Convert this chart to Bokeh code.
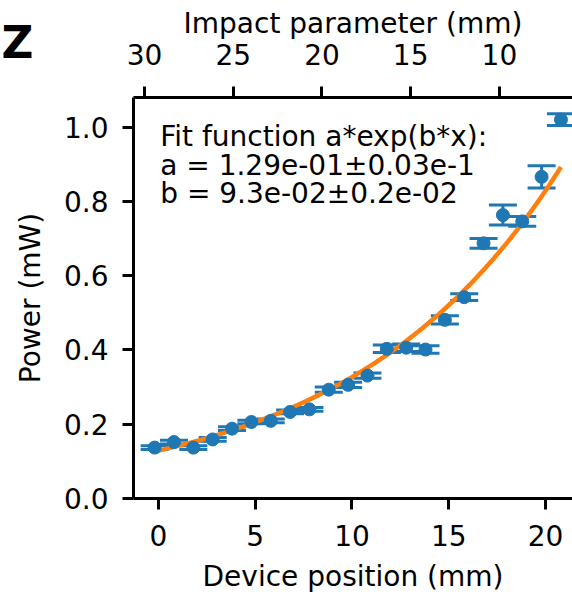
import numpy as np
from bokeh.plotting import figure
from bokeh.models import (Range1d, LinearAxis, FixedTicker, PrintfTickFormatter,
                          Whisker, TeeHead, ColumnDataSource, Label)
from bokeh.core.properties import value
from bokeh.embed import file_html
from bokeh.resources import INLINE

# ---- data ----
device_pos = [-0.2, 0.8, 1.8, 2.8, 3.8, 4.8, 5.8, 6.8, 7.8, 8.8, 9.8, 10.8,
              11.8, 12.8, 13.8, 14.8, 15.8, 16.8, 17.8, 18.8, 19.8, 20.8]
power = [0.137, 0.152, 0.137, 0.159, 0.188, 0.206, 0.209, 0.233, 0.240, 0.293,
         0.306, 0.331, 0.403, 0.406, 0.401, 0.481, 0.542, 0.687, 0.763, 0.746,
         0.866, 1.020]
power_err = [0.005, 0.005, 0.005, 0.005, 0.005, 0.005, 0.005, 0.005, 0.005, 0.007,
             0.007, 0.007, 0.010, 0.010, 0.010, 0.011, 0.009, 0.013, 0.027, 0.013,
             0.030, 0.016]
fit_a = 0.129
fit_b = 0.093
x_ticks = [0, 5, 10, 15, 20]
y_ticks = [0.0, 0.2, 0.4, 0.6, 0.8, 1.0]
impact_ticks = [30, 25, 20, 15, 10]
fit_text = ["Fit function a*exp(b*x):",
            "a = 1.29e-01\u00b10.03e-1",
            "b = 9.3e-02\u00b10.2e-02"]
panel_letter = ["Z"]

BLUE = "#1f77b4"
ORANGE = "#ff7f0e"
FONT = "DejaVu Sans"
FS = "28px"

p = figure(width=572, height=595, output_backend="svg", toolbar_location=None,
           x_range=Range1d(-1.293, 21.397), y_range=Range1d(0.0, 1.0796),
           x_axis_location=None, y_axis_location=None,
           min_border_left=133, min_border_right=0, min_border_top=97,
           min_border_bottom=97)
p.outline_line_color = None
p.xgrid.visible = False
p.ygrid.visible = False
p.background_fill_color = "white"
p.border_fill_color = "white"

p.extra_x_ranges = {"impact": Range1d(start=30.62, end=5.88)}


def style(ax):
    ax.axis_line_width = 3
    ax.axis_line_color = "black"
    ax.major_tick_line_width = 3
    ax.major_tick_in = 0
    ax.major_tick_out = 11
    ax.minor_tick_line_color = None
    ax.major_label_text_font = FONT
    ax.major_label_text_font_size = FS
    ax.major_label_text_color = "black"
    ax.axis_label_text_font = FONT
    ax.axis_label_text_font_size = FS
    ax.axis_label_text_font_style = "normal"
    ax.axis_label_text_color = "black"


bottom = LinearAxis(ticker=FixedTicker(ticks=x_ticks), axis_label="Device position (mm)")
style(bottom)
bottom.major_label_standoff = 15
bottom.axis_label_standoff = 11
p.add_layout(bottom, "below")

left = LinearAxis(ticker=FixedTicker(ticks=y_ticks), axis_label="Power (mW)",
                  formatter=PrintfTickFormatter(format="%.1f"))
style(left)
left.major_label_standoff = 14
left.axis_label_standoff = 14
p.add_layout(left, "left")

top = LinearAxis(x_range_name="impact", ticker=FixedTicker(ticks=impact_ticks),
                 axis_label="Impact parameter (mm)")
style(top)
top.major_label_standoff = 22
top.axis_label_standoff = 1
p.add_layout(top, "above")

# fit curve
x_fit = np.linspace(device_pos[0], device_pos[-1], 200)
y_fit = fit_a * np.exp(fit_b * x_fit)
p.line(x_fit, y_fit, line_color=ORANGE, line_width=4.5)

# error bars + points
lower = [v - e for v, e in zip(power, power_err)]
upper = [v + e for v, e in zip(power, power_err)]
src = ColumnDataSource(dict(x=device_pos, y=power, lower=lower, upper=upper))
w = Whisker(source=src, base="x", lower="lower", upper="upper", dimension="height",
            line_color=BLUE, line_width=3,
            lower_head=TeeHead(size=28, line_color=BLUE, line_width=3),
            upper_head=TeeHead(size=28, line_color=BLUE, line_width=3))
p.add_layout(w)
p.scatter("x", "y", source=src, size=13, fill_color=BLUE, line_color=BLUE)

# fit annotation
label_y = [0.974, 0.896, 0.820]
for t, yy in zip(fit_text, label_y):
    p.add_layout(Label(x=0.088, y=yy, text=t, text_font=FONT, text_font_size=FS,
                       text_color="black", text_baseline="alphabetic"))

# panel letter outside the frame (overlay-level glyph is not clipped)
p.text(x=[-8.12], y=[1.228], text=panel_letter, level="overlay",
       text_font=value(FONT), text_font_size="44px", text_font_style="bold",
       text_color="black", text_baseline="alphabetic")

open("out.html", "w").write(file_html(p, INLINE))
